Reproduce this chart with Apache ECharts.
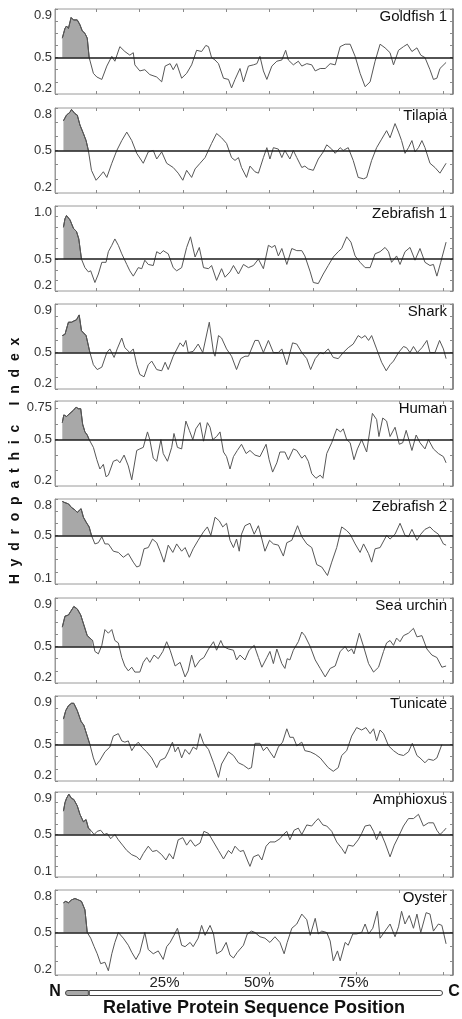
<!DOCTYPE html>
<html><head><meta charset="utf-8">
<script src="https://cdn.jsdelivr.net/npm/echarts@6/dist/echarts.min.js"></script>
<style>html,body{margin:0;padding:0;background:#fff}#chart{width:462px;height:1019px}</style>
</head><body><div id="chart"></div>
<script>
// ---------------- DATA ----------------
const panelNames = ['Goldfish 1','Tilapia','Zebrafish 1','Shark','Human','Zebrafish 2','Sea urchin','Tunicate','Amphioxus','Oyster'];
// y tick labels per panel: [bottom, middle, top]
const yTickLabels = [['0.2','0.5','0.9'],['0.2','0.5','0.8'],['0.2','0.5','1.0'],['0.2','0.5','0.9'],['0.2','0.5','0.75'],
                     ['0.1','0.5','0.8'],['0.2','0.5','0.9'],['0.2','0.5','0.9'],['0.1','0.5','0.9'],['0.2','0.5','0.8']];
// end of the shaded N-terminal (signal) region, % of sequence
const signalEnd = [7.0, 6.8, 5.0, 7.2, 7.0, 7.6, 7.9, 7.2, 7.4, 6.5];
const referenceLevel = 0.5;
const positionTicks = [25, 50, 75];
const barSignalShare = 6.3;
const xTicks = [8.8, 20.1, 31.4, 42.7, 54, 65.3, 76.6, 87.9, 99.2];

const goldfish1 = [[0,0.66],[0.7,0.74],[1.1,0.76],[1.6,0.74],[2.3,0.83],[2.9,0.81],[3.3,0.80],[3.9,0.81],[4.6,0.77],[5.2,0.72],[5.9,0.70],[6.5,0.66],[7.0,0.50],[8.1,0.37],[9.0,0.34],[10.3,0.32],[11.6,0.43],[12.9,0.51],[13.7,0.47],[15.0,0.59],[16.3,0.55],[17.6,0.52],[18.5,0.54],[18.9,0.44],[20.2,0.39],[21.5,0.40],[22.8,0.36],[24.6,0.34],[25.9,0.30],[26.8,0.43],[28.1,0.45],[28.9,0.40],[29.8,0.45],[31.1,0.33],[32.4,0.37],[33.7,0.44],[35.0,0.56],[36.3,0.55],[37.4,0.60],[38.1,0.59],[38.9,0.50],[39.8,0.48],[40.7,0.45],[42.0,0.33],[43.3,0.32],[44.1,0.25],[45.0,0.32],[46.3,0.41],[47.2,0.30],[48.5,0.43],[49.8,0.44],[50.7,0.45],[51.5,0.51],[52.4,0.39],[53.3,0.32],[54.6,0.43],[55.9,0.47],[57.2,0.48],[58.2,0.56],[58.9,0.48],[60.2,0.44],[61.5,0.47],[62.4,0.43],[63.7,0.45],[65.0,0.44],[65.9,0.39],[67.2,0.41],[68.5,0.41],[69.8,0.45],[71.1,0.44],[72.4,0.59],[73.7,0.61],[75.0,0.61],[76.3,0.51],[77.6,0.37],[78.9,0.26],[80.2,0.30],[81.5,0.47],[82.8,0.61],[84.1,0.58],[85.4,0.54],[86.3,0.44],[87.6,0.56],[88.9,0.59],[89.9,0.61],[91.1,0.55],[92.4,0.58],[93.4,0.52],[94.5,0.50],[95.8,0.40],[96.7,0.32],[97.6,0.33],[98.4,0.41],[100,0.46]];
const tilapia = [[0.3,0.71],[1.1,0.75],[2.0,0.77],[2.4,0.79],[3.3,0.76],[3.9,0.75],[4.6,0.68],[5.5,0.62],[6.2,0.57],[6.8,0.50],[7.6,0.36],[8.8,0.29],[9.8,0.32],[10.7,0.35],[11.6,0.31],[12.9,0.41],[14.2,0.50],[15.5,0.57],[16.8,0.63],[18.1,0.57],[19.4,0.48],[21.1,0.41],[22.4,0.49],[23.7,0.50],[24.6,0.44],[25.9,0.49],[27.2,0.41],[28.9,0.38],[30.2,0.34],[31.4,0.29],[32.4,0.36],[33.7,0.31],[34.6,0.37],[35.9,0.41],[37.2,0.45],[38.9,0.55],[40.2,0.62],[41.5,0.59],[42.8,0.55],[44.1,0.45],[45.0,0.43],[45.9,0.45],[46.7,0.38],[48.0,0.31],[48.9,0.39],[50.2,0.35],[51.1,0.34],[52.4,0.45],[53.3,0.52],[54.1,0.44],[55.0,0.52],[56.3,0.51],[57.2,0.45],[58.0,0.50],[59.3,0.44],[60.2,0.50],[61.1,0.45],[62.4,0.38],[63.2,0.39],[64.1,0.37],[65.4,0.36],[66.7,0.44],[68.0,0.49],[68.9,0.54],[70.2,0.51],[71.1,0.48],[72.4,0.52],[73.2,0.50],[74.5,0.52],[75.8,0.43],[77.1,0.31],[78.5,0.30],[79.3,0.31],[80.6,0.43],[81.9,0.52],[83.2,0.58],[84.5,0.64],[85.4,0.59],[86.7,0.69],[87.6,0.63],[88.4,0.57],[89.3,0.48],[90.2,0.52],[91.1,0.57],[91.9,0.49],[92.8,0.52],[93.7,0.57],[94.5,0.52],[95.8,0.41],[97.1,0.38],[98.4,0.34],[100,0.41]];
const zebrafish1 = [[0.3,0.80],[0.7,0.88],[1.1,0.91],[2.0,0.87],[2.9,0.79],[3.7,0.76],[4.3,0.69],[5.0,0.50],[5.9,0.42],[6.8,0.38],[7.4,0.39],[8.5,0.28],[9.4,0.36],[10.3,0.47],[11.4,0.47],[12.0,0.57],[12.9,0.63],[13.7,0.69],[14.6,0.63],[15.5,0.55],[16.8,0.45],[17.6,0.39],[18.5,0.34],[19.8,0.42],[20.7,0.41],[21.5,0.49],[22.4,0.45],[23.7,0.44],[24.6,0.57],[25.5,0.55],[26.3,0.58],[27.6,0.55],[28.9,0.42],[29.8,0.39],[31.1,0.42],[32.4,0.61],[33.4,0.71],[34.6,0.52],[35.7,0.61],[36.8,0.42],[38.1,0.41],[38.9,0.44],[40.2,0.30],[41.5,0.41],[42.4,0.33],[43.7,0.38],[44.6,0.44],[45.9,0.36],[47.2,0.45],[48.5,0.42],[49.8,0.44],[51.1,0.50],[52.4,0.41],[53.7,0.63],[54.6,0.61],[55.4,0.63],[56.3,0.53],[57.2,0.60],[58.5,0.45],[59.8,0.60],[61.1,0.58],[62.4,0.58],[63.2,0.53],[64.6,0.38],[65.4,0.28],[66.7,0.27],[68.0,0.36],[69.3,0.44],[70.6,0.52],[71.9,0.57],[72.8,0.60],[74.1,0.71],[75.2,0.66],[76.3,0.53],[77.6,0.47],[78.9,0.42],[80.2,0.42],[81.5,0.55],[82.8,0.57],[84.1,0.61],[85.0,0.57],[85.8,0.47],[87.1,0.53],[88.0,0.45],[89.3,0.57],[90.6,0.61],[91.9,0.49],[93.2,0.60],[94.5,0.47],[95.8,0.44],[96.7,0.45],[97.6,0.34],[98.6,0.47],[100,0.66]];
const shark = [[0,0.64],[0.7,0.65],[1.6,0.75],[2.4,0.75],[3.0,0.76],[3.7,0.77],[4.4,0.81],[5.0,0.68],[6.2,0.64],[7.2,0.50],[8.1,0.40],[9.1,0.36],[10.3,0.38],[11.6,0.50],[12.4,0.53],[13.5,0.46],[14.3,0.53],[15.5,0.62],[16.3,0.54],[17.6,0.50],[18.5,0.53],[19.4,0.40],[20.2,0.32],[21.3,0.30],[22.4,0.40],[23.3,0.43],[24.6,0.36],[25.9,0.35],[26.8,0.42],[27.6,0.36],[28.9,0.47],[30.7,0.58],[31.5,0.55],[32.2,0.60],[32.8,0.50],[34.1,0.51],[35.4,0.57],[36.6,0.50],[38.3,0.75],[39.4,0.50],[39.8,0.47],[40.7,0.64],[41.5,0.62],[42.8,0.53],[44.1,0.47],[45.4,0.36],[46.5,0.45],[47.6,0.47],[48.5,0.47],[50.2,0.60],[51.1,0.60],[52.4,0.50],[53.7,0.60],[55.0,0.50],[56.3,0.50],[57.2,0.53],[58.5,0.40],[60.0,0.58],[61.1,0.57],[62.4,0.50],[63.7,0.45],[64.7,0.36],[65.9,0.45],[67.2,0.50],[68.0,0.49],[69.3,0.53],[70.6,0.46],[71.9,0.45],[73.2,0.50],[74.5,0.54],[75.8,0.57],[77.1,0.64],[78.0,0.62],[78.9,0.64],[79.8,0.60],[80.6,0.64],[81.9,0.53],[83.2,0.42],[84.4,0.35],[85.4,0.40],[86.3,0.43],[87.6,0.50],[88.9,0.55],[89.7,0.54],[90.6,0.50],[91.5,0.55],[92.5,0.50],[93.7,0.54],[95.0,0.60],[95.8,0.50],[97.1,0.50],[98.3,0.60],[99.3,0.53],[100,0.45]];
const human = [[0,0.61],[0.4,0.66],[1.1,0.65],[2.0,0.67],[2.9,0.69],[3.6,0.71],[4.2,0.70],[4.8,0.70],[5.3,0.60],[5.9,0.55],[6.5,0.53],[7.0,0.50],[8.1,0.45],[9.0,0.37],[9.8,0.31],[10.7,0.34],[11.4,0.26],[12.0,0.27],[13.3,0.36],[14.3,0.37],[15.0,0.35],[16.1,0.40],[17.2,0.33],[18.1,0.24],[19.4,0.43],[20.2,0.44],[21.1,0.45],[22.2,0.55],[22.8,0.50],[23.7,0.38],[24.6,0.36],[25.7,0.50],[26.3,0.41],[27.4,0.36],[28.5,0.45],[29.1,0.54],[30.0,0.45],[31.1,0.44],[32.2,0.62],[33.1,0.56],[34.0,0.50],[34.8,0.57],[35.9,0.61],[36.8,0.49],[37.8,0.61],[38.5,0.58],[39.2,0.50],[40.2,0.52],[41.1,0.55],[42.0,0.42],[42.8,0.39],[43.7,0.31],[44.6,0.39],[45.6,0.43],[46.7,0.47],[47.9,0.41],[48.9,0.43],[50.2,0.40],[51.5,0.39],[53.1,0.47],[53.9,0.37],[54.8,0.29],[55.9,0.35],[56.7,0.42],[58.0,0.42],[58.9,0.37],[60.2,0.44],[61.1,0.43],[62.4,0.38],[63.2,0.40],[64.1,0.36],[65.0,0.28],[66.1,0.25],[67.2,0.27],[67.9,0.25],[68.9,0.41],[70.2,0.48],[71.5,0.57],[72.5,0.55],[73.2,0.57],[74.1,0.50],[75.0,0.48],[76.0,0.37],[76.9,0.44],[78.0,0.50],[79.3,0.42],[80.8,0.67],[81.9,0.63],[82.5,0.52],[83.5,0.64],[84.5,0.62],[85.4,0.52],[86.7,0.58],[87.8,0.47],[88.7,0.48],[89.6,0.56],[91.1,0.43],[92.2,0.53],[93.2,0.48],[94.5,0.44],[95.4,0.50],[96.7,0.44],[98.0,0.41],[99.3,0.39],[100,0.35]];
const zebrafish2 = [[0,0.78],[0.7,0.77],[1.6,0.76],[2.4,0.73],[3.3,0.71],[3.9,0.69],[4.9,0.72],[5.5,0.65],[6.2,0.61],[7.0,0.57],[7.6,0.50],[8.5,0.43],[9.4,0.44],[10.3,0.49],[11.1,0.43],[12.0,0.43],[13.3,0.37],[14.6,0.36],[15.9,0.32],[17.2,0.35],[18.5,0.28],[19.4,0.24],[20.2,0.25],[21.3,0.39],[22.4,0.40],[23.5,0.47],[24.6,0.44],[25.5,0.37],[26.5,0.28],[27.6,0.42],[28.8,0.36],[29.8,0.43],[31.1,0.37],[32.0,0.40],[33.1,0.32],[34.1,0.39],[35.4,0.46],[36.8,0.53],[37.8,0.57],[38.7,0.50],[39.8,0.65],[40.9,0.62],[41.8,0.57],[42.8,0.60],[43.7,0.46],[44.6,0.40],[45.4,0.47],[46.1,0.37],[46.7,0.51],[47.6,0.58],[48.9,0.60],[50.0,0.51],[51.1,0.58],[52.0,0.47],[52.8,0.37],[54.0,0.46],[55.0,0.43],[56.3,0.42],[57.6,0.33],[58.5,0.44],[59.8,0.46],[61.3,0.58],[62.4,0.49],[63.7,0.43],[65.0,0.40],[66.3,0.26],[67.6,0.24],[69.1,0.17],[70.2,0.28],[71.5,0.40],[72.8,0.57],[74.1,0.54],[75.0,0.51],[76.3,0.43],[77.6,0.36],[78.5,0.43],[79.8,0.35],[80.6,0.28],[81.5,0.39],[82.8,0.40],[84.5,0.50],[85.4,0.47],[86.7,0.51],[88.0,0.60],[89.3,0.50],[90.2,0.49],[91.1,0.55],[92.4,0.46],[93.4,0.51],[94.5,0.55],[95.8,0.57],[96.7,0.54],[98.0,0.51],[99.3,0.43],[100,0.42]];
const seaUrchin = [[0,0.66],[0.7,0.75],[1.6,0.76],[2.2,0.79],[3.0,0.83],[3.9,0.81],[4.8,0.76],[5.6,0.68],[6.5,0.59],[7.2,0.57],[7.9,0.55],[8.5,0.46],[9.4,0.44],[10.3,0.51],[11.1,0.64],[12.0,0.61],[12.9,0.64],[13.7,0.55],[14.6,0.53],[15.5,0.41],[16.3,0.34],[17.2,0.30],[18.1,0.33],[18.9,0.29],[20.2,0.29],[21.1,0.37],[22.0,0.41],[22.8,0.37],[23.9,0.43],[25.0,0.40],[26.2,0.46],[27.2,0.54],[28.1,0.47],[29.4,0.34],[30.7,0.37],[32.0,0.25],[32.8,0.30],[33.7,0.43],[34.6,0.33],[35.9,0.39],[36.9,0.41],[38.1,0.48],[39.4,0.54],[40.2,0.47],[41.3,0.55],[42.0,0.50],[43.3,0.48],[44.6,0.47],[45.4,0.39],[46.3,0.43],[47.6,0.39],[48.7,0.47],[50.0,0.51],[51.1,0.41],[52.0,0.33],[53.3,0.41],[54.1,0.46],[55.0,0.36],[55.9,0.48],[57.2,0.36],[58.0,0.32],[58.6,0.40],[59.3,0.39],[60.2,0.47],[61.5,0.54],[62.4,0.62],[63.2,0.59],[64.6,0.50],[65.9,0.39],[67.2,0.32],[68.5,0.25],[69.8,0.32],[71.1,0.34],[72.4,0.46],[73.7,0.50],[74.5,0.46],[75.4,0.48],[76.0,0.44],[77.4,0.61],[78.5,0.50],[79.8,0.36],[81.1,0.29],[82.4,0.33],[83.7,0.46],[84.5,0.53],[85.4,0.55],[86.3,0.51],[87.1,0.57],[88.0,0.54],[88.9,0.59],[90.2,0.61],[91.5,0.65],[92.4,0.58],[93.7,0.59],[95.0,0.48],[96.3,0.43],[97.6,0.41],[98.9,0.33],[100,0.34]];
const tunicate = [[0.3,0.71],[0.9,0.78],[1.6,0.82],[2.4,0.84],[3.0,0.84],[3.9,0.78],[4.9,0.69],[5.6,0.66],[6.5,0.57],[7.2,0.50],[8.1,0.39],[8.8,0.33],[9.8,0.37],[11.1,0.44],[12.4,0.48],[13.3,0.57],[14.6,0.59],[15.5,0.53],[16.3,0.52],[17.2,0.53],[18.1,0.45],[18.9,0.49],[19.8,0.52],[20.7,0.48],[22.0,0.44],[23.3,0.39],[24.6,0.31],[25.5,0.37],[26.8,0.39],[27.6,0.44],[28.7,0.52],[29.4,0.44],[30.2,0.48],[31.1,0.39],[32.0,0.46],[33.1,0.42],[34.1,0.48],[35.0,0.46],[35.9,0.59],[36.8,0.51],[38.1,0.46],[39.4,0.35],[40.7,0.23],[41.5,0.34],[42.4,0.39],[43.3,0.44],[44.6,0.41],[45.9,0.35],[47.2,0.33],[48.5,0.30],[49.3,0.31],[50.2,0.51],[51.5,0.51],[52.4,0.45],[53.3,0.48],[54.1,0.44],[55.2,0.39],[56.3,0.48],[57.4,0.52],[58.5,0.63],[59.3,0.56],[60.2,0.56],[61.1,0.49],[62.4,0.52],[63.2,0.45],[64.6,0.44],[65.9,0.42],[67.2,0.39],[68.5,0.34],[69.3,0.31],[70.6,0.28],[71.9,0.31],[72.8,0.41],[74.1,0.45],[75.4,0.57],[76.7,0.64],[78.0,0.62],[79.1,0.64],[80.2,0.59],[81.1,0.63],[81.9,0.53],[82.8,0.62],[83.7,0.59],[85.0,0.49],[86.3,0.45],[87.6,0.42],[88.9,0.41],[90.2,0.44],[91.2,0.51],[92.4,0.41],[93.2,0.39],[94.5,0.35],[95.4,0.38],[96.7,0.37],[97.6,0.39],[98.9,0.50]];
const amphioxus = [[0.3,0.72],[0.7,0.80],[1.1,0.84],[1.7,0.88],[2.4,0.84],[3.0,0.83],[3.9,0.77],[4.6,0.69],[5.5,0.62],[6.2,0.64],[6.8,0.56],[7.4,0.54],[8.3,0.50],[9.1,0.53],[10.0,0.54],[10.9,0.50],[11.7,0.51],[12.6,0.46],[13.7,0.50],[14.6,0.45],[15.7,0.40],[16.8,0.35],[18.1,0.31],[19.4,0.29],[20.2,0.26],[21.1,0.32],[22.4,0.39],[23.5,0.34],[24.6,0.35],[25.9,0.31],[27.0,0.26],[27.9,0.32],[28.9,0.27],[30.2,0.45],[31.4,0.47],[32.4,0.40],[33.4,0.45],[34.6,0.39],[35.9,0.42],[36.9,0.53],[38.1,0.51],[39.4,0.43],[40.7,0.35],[42.0,0.27],[43.3,0.35],[44.1,0.32],[45.0,0.39],[46.3,0.34],[47.2,0.35],[48.2,0.26],[48.9,0.20],[49.8,0.29],[51.1,0.31],[52.0,0.26],[53.1,0.39],[54.1,0.43],[55.4,0.43],[56.7,0.46],[57.6,0.50],[58.5,0.53],[59.3,0.45],[60.4,0.54],[61.5,0.56],[62.4,0.50],[63.7,0.59],[65.0,0.58],[65.9,0.62],[66.7,0.65],[67.9,0.59],[68.9,0.58],[70.2,0.53],[71.5,0.43],[72.8,0.37],[73.7,0.32],[74.5,0.40],[75.8,0.39],[77.1,0.45],[78.0,0.51],[78.9,0.58],[80.2,0.59],[81.1,0.53],[81.9,0.45],[82.8,0.53],[84.1,0.42],[85.4,0.29],[86.5,0.40],[87.6,0.48],[88.9,0.58],[90.2,0.65],[91.5,0.65],[92.8,0.69],[94.1,0.58],[95.4,0.61],[96.7,0.61],[97.6,0.54],[98.4,0.50],[99.3,0.53],[100,0.56]];
const oyster = [[0.3,0.71],[0.9,0.72],[1.6,0.71],[2.4,0.73],[3.3,0.74],[4.2,0.73],[5.0,0.72],[5.9,0.66],[6.5,0.50],[7.4,0.46],[8.3,0.40],[9.1,0.35],[10.0,0.28],[11.1,0.29],[12.0,0.23],[12.9,0.35],[13.7,0.43],[14.6,0.50],[15.9,0.46],[17.2,0.41],[18.1,0.36],[19.2,0.31],[20.2,0.36],[21.5,0.50],[22.4,0.38],[23.7,0.35],[25.0,0.37],[26.3,0.31],[27.2,0.40],[28.1,0.43],[29.1,0.48],[30.0,0.53],[31.1,0.41],[32.0,0.40],[33.3,0.43],[34.1,0.40],[35.4,0.46],[36.3,0.55],[37.2,0.48],[38.5,0.55],[39.4,0.49],[40.2,0.35],[41.5,0.37],[42.7,0.43],[43.7,0.34],[44.6,0.32],[45.6,0.36],[47.2,0.41],[48.2,0.49],[49.3,0.51],[50.2,0.50],[51.5,0.47],[52.8,0.46],[54.1,0.43],[55.4,0.47],[56.7,0.43],[57.8,0.35],[58.6,0.43],[59.8,0.53],[61.1,0.56],[62.4,0.63],[63.7,0.59],[64.6,0.48],[65.9,0.60],[66.7,0.49],[67.6,0.51],[68.9,0.50],[69.8,0.44],[70.6,0.30],[71.7,0.37],[72.4,0.30],[73.7,0.43],[74.5,0.41],[75.7,0.49],[76.7,0.49],[78.0,0.50],[78.9,0.56],[79.8,0.49],[80.9,0.53],[82.1,0.65],[82.8,0.46],[84.1,0.51],[85.4,0.56],[86.7,0.47],[87.6,0.54],[88.4,0.65],[89.3,0.56],[90.4,0.62],[91.5,0.53],[92.4,0.63],[93.4,0.50],[94.8,0.64],[95.8,0.63],[96.7,0.51],[98.0,0.56],[98.9,0.55],[100,0.42]];

const panelData = [goldfish1, tilapia, zebrafish1, shark, human, zebrafish2, seaUrchin, tunicate, amphioxus, oyster];

// ---------------- LAYOUT ----------------
const FONT = '"Liberation Sans", Arial, Helvetica, sans-serif';
const panelTops = [9, 108, 206, 304, 401, 499, 598, 696, 792, 890];
const PANEL_H = 85, X_MIN = -1.9, X_MAX = 101.8;
const LINE_COLOR = '#575757', FILL_COLOR = '#a8a8a8', FRAME = '#9a9a9a', TICK = '#8a8a8a';

const grid = [], xAxis = [], yAxis = [], series = [], title = [];

panelNames.forEach((name, i) => {
  const labs = yTickLabels[i];
  const vals = labs.map(Number);
  const ymin = vals[0], ymax = vals[2];
  grid.push({left: 55, right: 9, top: panelTops[i], height: PANEL_H, show: true,
             borderColor: FRAME, borderWidth: 1, backgroundColor: 'transparent'});
  const xBase = {gridIndex: i, type: 'value', min: X_MIN, max: X_MAX,
    axisLine: {show: false, onZero: false}, splitLine: {show: false}, axisLabel: {show: false},
    axisTick: {show: true, inside: true, length: 3, customValues: xTicks, lineStyle: {color: TICK, width: 1}}};
  xAxis.push(Object.assign({position: 'bottom'}, xBase));
  xAxis.push(Object.assign({position: 'top'}, xBase));
  yAxis.push({gridIndex: i, type: 'value', position: 'left', min: ymin, max: ymax, interval: 0.1,
    axisLine: {show: true, onZero: false, lineStyle: {color: FRAME, width: 1}}, splitLine: {show: false},
    axisTick: {show: true, inside: true, length: 3, lineStyle: {color: TICK}},
    axisLabel: {show: true, customValues: vals, margin: 3, fontSize: 13, fontFamily: FONT, color: '#333',
      formatter: v => {
        const j = vals.findIndex(u => Math.abs(u - v) < 1e-6);
        if (j < 0) return '';
        if (j === 0) return '{b|' + labs[j] + '}';
        if (j === 2) return '{t|' + labs[j] + '}';
        return labs[j];
      },
      rich: {
        t: {padding: [12, 0, 0, 0], fontSize: 13, fontFamily: FONT, color: '#333'},
        b: {padding: [0, 0, 11, 0], fontSize: 13, fontFamily: FONT, color: '#333'}
      }}});
  yAxis.push({gridIndex: i, type: 'value', position: 'right', min: ymin, max: ymax, interval: 0.1,
    axisLine: {show: true, onZero: false, lineStyle: {color: '#777', width: 1.5}}, splitLine: {show: false},
    axisTick: {show: true, inside: true, length: 3, lineStyle: {color: TICK}},
    axisLabel: {show: false}});
  const data = panelData[i];
  series.push({type: 'line', name: name + ' signal', xAxisIndex: 2 * i, yAxisIndex: 2 * i,
    data: data.filter(p => p[0] <= signalEnd[i] + 1e-9), showSymbol: false, silent: true, z: 2,
    lineStyle: {width: 1, color: '#3a3a3a'},
    areaStyle: {color: FILL_COLOR, opacity: 1, origin: referenceLevel}});
  series.push({type: 'line', name: name, xAxisIndex: 2 * i, yAxisIndex: 2 * i, data: data,
    showSymbol: false, silent: true, z: 3, lineStyle: {width: 1, color: LINE_COLOR},
    markLine: {silent: true, symbol: 'none', label: {show: false}, animation: false,
      lineStyle: {color: '#1a1a1a', width: 1.5, type: 'solid'}, data: [{yAxis: referenceLevel}]}});
  title.push({text: name, right: 15, top: panelTops[i], padding: 0,
    textStyle: {fontSize: 15, fontWeight: 'normal', fontFamily: FONT, color: '#111'}});
});

// bottom position bar
const bi = panelNames.length;
grid.push({left: 65, right: 19, top: 990, height: 6});
xAxis.push({gridIndex: bi, type: 'value', min: 0, max: 100, position: 'top',
  axisLine: {show: false}, axisTick: {show: false}, splitLine: {show: false},
  axisLabel: {show: true, customValues: positionTicks, formatter: v => v + '%', margin: 0,
    fontSize: 15, fontFamily: FONT, color: '#222', padding: [0, 0, 0, 10]}});
yAxis.push({gridIndex: bi, type: 'category', data: ['sequence'], show: false});
series.push({type: 'bar', xAxisIndex: 2 * bi, yAxisIndex: 2 * bi, stack: 'seq', barWidth: 6, silent: true,
  data: [barSignalShare], itemStyle: {color: FILL_COLOR, borderColor: '#444', borderWidth: 1, borderRadius: [3, 0, 0, 3]}});
series.push({type: 'bar', xAxisIndex: 2 * bi, yAxisIndex: 2 * bi, stack: 'seq', barWidth: 6, silent: true,
  data: [100 - barSignalShare], itemStyle: {color: '#fff', borderColor: '#444', borderWidth: 1, borderRadius: [0, 3, 3, 0]}});

const option = {
  animation: false,
  backgroundColor: '#fff',
  title, grid, xAxis, yAxis, series,
  graphic: [
    {type: 'text', x: 15, y: 461, rotation: Math.PI / 2,
      style: {text: 'H  y  d  r  o  p  a  t  h  i  c     I  n  d  e  x', fontSize: 14, fontWeight: 'bold',
        fontFamily: FONT, fill: '#111', align: 'center', verticalAlign: 'middle'}},
    {type: 'text', x: 55, y: 992, style: {text: 'N', fontSize: 16, fontWeight: 'bold', fontFamily: FONT,
        fill: '#111', align: 'center', verticalAlign: 'middle'}},
    {type: 'text', x: 454, y: 992, style: {text: 'C', fontSize: 16, fontWeight: 'bold', fontFamily: FONT,
        fill: '#111', align: 'center', verticalAlign: 'middle'}},
    {type: 'text', x: 254, y: 1008, style: {text: 'Relative Protein Sequence Position', fontSize: 18,
        fontWeight: 'bold', fontFamily: FONT, fill: '#111', align: 'center', verticalAlign: 'middle'}}
  ]
};
const chart = echarts.init(document.getElementById('chart'), null, {renderer: 'canvas'});
chart.setOption(option);
</script></body></html>
